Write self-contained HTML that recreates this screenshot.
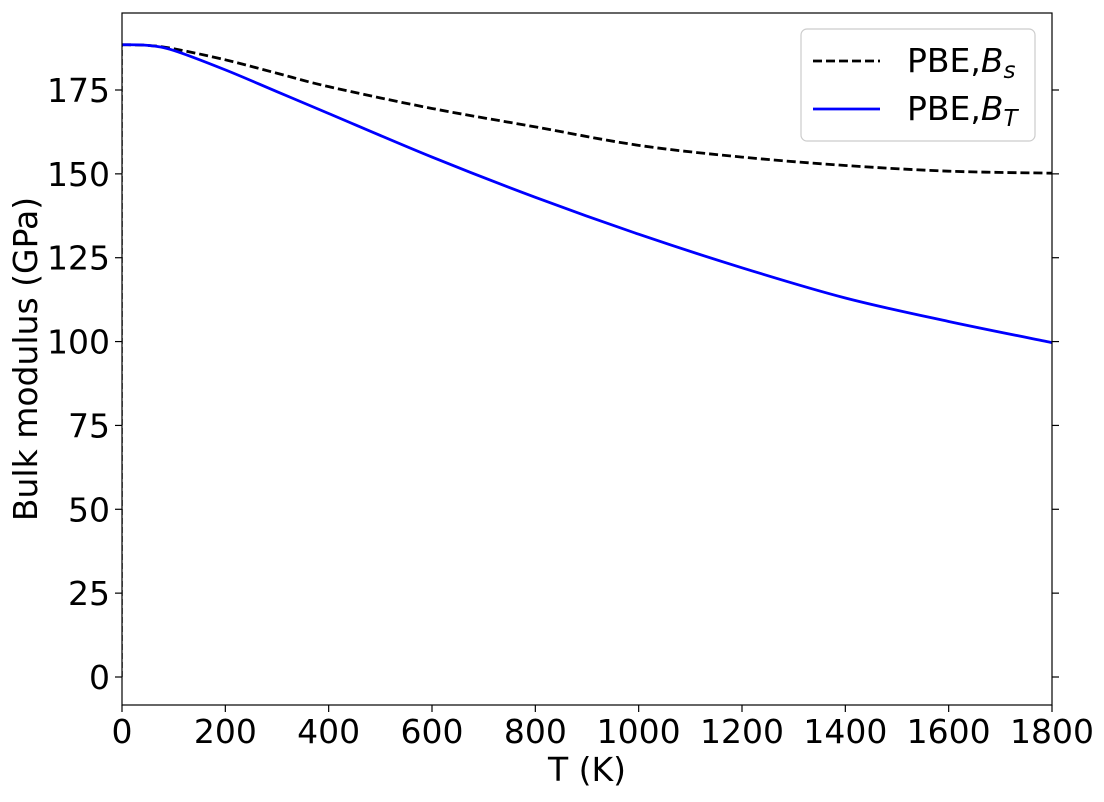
<!DOCTYPE html>
<html><head><meta charset="utf-8"><style>
body{margin:0;background:#fff}
svg text{font-family:"DejaVu Sans","Liberation Sans",sans-serif;fill:#000}
</style></head><body>
<svg id="chart" width="1104" height="797" xmlns="http://www.w3.org/2000/svg">
</svg>
<script>
const temps = [0, 50, 100, 200, 300, 400, 600, 800, 1000, 1200, 1400, 1600, 1800];
const bsValues = [188.5, 188.3, 187.3, 184, 180, 176, 169.5, 164, 158.5, 155, 152.5, 150.8, 150.2];
const btValues = [188.5, 188.3, 186.8, 181, 174.5, 168, 155, 143, 132, 122, 113, 106, 99.7];
const xTicks = [0, 200, 400, 600, 800, 1000, 1200, 1400, 1600, 1800];
const yTicks = [0, 25, 50, 75, 100, 125, 150, 175];

const L=122,R=1052,T=13,B=705;
const x=v=>L+(v/1800)*(R-L);
const y=v=>677-(v/175)*(677-90);
const NS="http://www.w3.org/2000/svg";
const svg=document.getElementById('chart');
function mk(tag,attrs,parent){const e=document.createElementNS(NS,tag);for(const k in attrs)e.setAttribute(k,attrs[k]);(parent||svg).appendChild(e);return e;}

yTicks.forEach(v=>{
  const t=mk('line',{x1:L-7,x2:L,y1:y(v),y2:y(v),stroke:'#000','stroke-width':1.2});
  
  
  const t2=mk('line',{x1:R,x2:R+7,y1:y(v),y2:y(v),stroke:'#000','stroke-width':1.2});
  
  
  const tx=mk('text',{x:L-12,y:y(v)+12,'text-anchor':'end','font-size':33});
  tx.textContent=v;
  
  
});
xTicks.forEach(v=>{
  const t=mk('line',{x1:x(v),x2:x(v),y1:B,y2:B+7,stroke:'#000','stroke-width':1.2});
  
  
  const tx=mk('text',{x:x(v),y:B+38,'text-anchor':'middle','font-size':33});
  tx.textContent=v;
  
  
});

const drop=mk('line',{x1:x(0)+0.5,x2:x(0)+0.5,y1:y(0),y2:y(bsValues[0]),stroke:'#888','stroke-width':1,'stroke-dasharray':'6,3'});



function series(vals,attrs,name){
  const p=temps.map((t,i)=>[x(t),y(vals[i])]);
  let d='M'+p[0].join(',');
  for(let i=0;i<p.length-1;i++){
    const p0=p[i-1]||p[i],p1=p[i],p2=p[i+1],p3=p[i+2]||p[i+1];
    const c1=[p1[0]+(p2[0]-p0[0])/6,p1[1]+(p2[1]-p0[1])/6];
    const c2=[p2[0]-(p3[0]-p1[0])/6,p2[1]-(p3[1]-p1[1])/6];
    d+=' C'+c1.join(',')+' '+c2.join(',')+' '+p2.join(',');
  }
  const e=mk('path',Object.assign({d:d,fill:'none'},attrs));
  
  
}
series(bsValues,{stroke:'#000','stroke-width':2.8,'stroke-dasharray':'9,4'},'series-bs');
series(btValues,{stroke:'#0000ff','stroke-width':2.8},'series-bt');

const frame=mk('rect',{x:L,y:T,width:R-L,height:B-T,fill:'none',stroke:'#000','stroke-width':1.2});


</script>
<svg style="position:absolute;left:0;top:0" width="1104" height="797" xmlns="http://www.w3.org/2000/svg">
<text x="587" y="781" text-anchor="middle" font-size="33">T (K)</text>
<text transform="translate(37,359) rotate(-90)" text-anchor="middle" font-size="33">Bulk modulus (GPa)</text>
<g>
<rect x="801" y="29" width="234" height="112" rx="6" fill="#fff" fill-opacity="0.8" stroke="#ccc" stroke-width="1.2"/>
<line x1="813" x2="880" y1="61" y2="61" stroke="#000" stroke-width="2.8" stroke-dasharray="9,4"/>
<text x="907" y="72" font-size="33">PBE,<tspan font-style="italic">B</tspan><tspan font-style="italic" font-size="23" dy="6">s</tspan></text>
<line x1="813" x2="880" y1="109" y2="109" stroke="#0000ff" stroke-width="2.8"/>
<text x="907" y="120" font-size="33">PBE,<tspan font-style="italic">B</tspan><tspan font-style="italic" font-size="23" dy="6">T</tspan></text>
</g>
</svg>
</body></html>
